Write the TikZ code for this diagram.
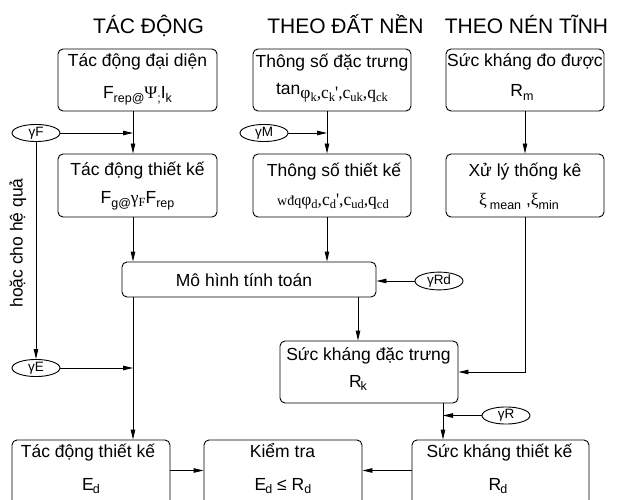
\documentclass[tikz,border=0pt]{standalone}
\usepackage{fontspec}
\setmainfont{Liberation Sans}
\newfontfamily\serif{Liberation Serif}
\usetikzlibrary{shapes.geometric,arrows.meta}
\newcommand\sbs[1]{\raisebox{-0.35ex}{\fontsize{12.5}{12.5}\selectfont #1}}
\begin{document}
\begin{tikzpicture}[x=1pt,y=-1pt,
  bx/.style={draw, rounded corners=5pt, line width=0.9pt, inner sep=0pt},
  ell/.style={ellipse, draw, line width=0.9pt, minimum width=48pt, minimum height=16pt, inner sep=0pt, font=\fontsize{13.5}{13.5}\selectfont},
  txt/.style={anchor=base, inner sep=0pt, font=\fontsize{17.5}{20}\selectfont},
  head/.style={anchor=base, inner sep=0pt, font=\fontsize{21}{24}\selectfont},
  arr/.style={-{Triangle[length=10pt,width=4.5pt]}, line width=0.9pt},
  ln/.style={line width=0.9pt}]
\clip (0,0) rectangle (619,500);
% headings
\node[head] (h1) at (148.5,34) {TÁC ĐỘNG};
\node[head] (h2) at (345.5,34) {THEO ĐẤT NỀN};
\node[head] (h3) at (526.5,34) {THEO NÉN TĨNH};
% row 1
\node[bx, minimum width=159pt, minimum height=62pt] (b1) at (137.5,80) {};
\node[bx, minimum width=158pt, minimum height=62pt] (b2) at (332,80) {};
\node[bx, minimum width=158pt, minimum height=62pt] (b3) at (525,80) {};
\node[txt] (t1a) at (137.5,67) {Tác động đại diện};
\node[txt] (t1b) at (137.5,99) {F\sbs{rep@}{\serif Ψ}\sbs{;}I\sbs{k}};
\node[txt] (t2a) at (332,68) {Thông số đặc trưng};
\node[txt] (t2b) at (332,95) {tan\raisebox{-4pt}{\serif φ\sbs{k},c\sbs{k}',c\sbs{uk},q\sbs{ck}}};
\node[txt] (t3a) at (525,67) {Sức kháng đo được};
\node[txt] (t3b) at (522,97) {R\sbs{m}};
% row 2
\node[bx, minimum width=159pt, minimum height=63pt] (b4) at (137.5,185.5) {};
\node[bx, minimum width=158pt, minimum height=63pt] (b5) at (332,185.5) {};
\node[bx, minimum width=158pt, minimum height=63pt] (b6) at (525,185.5) {};
\node[txt] (t4a) at (137.5,176) {Tác động thiết kế};
\node[txt] (t4b) at (137.5,204) {F\sbs{g@}{\serif γ\sbs{F}}F\sbs{rep}};
\node[txt] (t5a) at (334,177) {Thông số thiết kế};
\node[txt] (t5b) at (333,206) {\serif{\fontsize{14}{14}\selectfont wđq}φ\sbs{d},c\sbs{d}',c\sbs{ud},q\sbs{cd}};
\node[txt] (t6a) at (525,177) {Xử lý thống kê};
\node[txt] (t6b) at (519,206) {{\serif ξ}\,\sbs{mean} ,{\serif ξ}\sbs{min}};
% model
\node[bx, minimum width=254pt, minimum height=35pt] (m) at (249,279.5) {};
\node[txt] (tm) at (244,286) {Mô hình tính toán};
% characteristic resistance
\node[bx, minimum width=178pt, minimum height=62pt] (sk) at (369,372) {};
\node[txt] (tska) at (368.5,360) {Sức kháng đặc trưng};
\node[txt] (tskb) at (358,387) {R\kern-1pt\sbs{k}};
% bottom row
\node[bx, minimum width=158pt, minimum height=66pt] (e1) at (91,473) {};
\node[bx, minimum width=158pt, minimum height=66pt] (k) at (283,473) {};
\node[bx, minimum width=177pt, minimum height=66pt] (r1) at (500.5,473) {};
\node[txt] (te1a) at (88,457) {Tác động thiết kế};
\node[txt] (te1b) at (91,490) {E\kern-1pt\sbs{d}};
\node[txt] (tka) at (282.5,457) {Kiểm tra};
\node[txt] (tkb) at (283,490) {E\kern-1pt\sbs{d} ≤ R\sbs{d}};
\node[txt] (tr1a) at (499.5,457) {Sức kháng thiết kế};
\node[txt] (tr1b) at (498,490) {R\kern-1pt\sbs{d}};
% partial factors
\node[ell] (gF) at (36,133) {γF};
\node[ell] (gM) at (264,133) {γM};
\node[ell] (gE) at (36,368) {γE};
\node[ell, minimum height=17pt] (gRd) at (439,281) {γRd};
\node[ell] (gR) at (506,415.5) {γR};
% side text
\node[rotate=90, inner sep=0pt, font=\fontsize{17.5}{20}\selectfont] (side) at (18,243) {hoặc cho hệ quả};
% helper coordinates
\coordinate (xa) at (133,0);
\coordinate (xb) at (327,0);
\coordinate (xc) at (525,0);
\coordinate (xd) at (358,0);
\coordinate (xe) at (443,0);
\coordinate (yk) at (0,372);
\coordinate (yb) at (0,470.5);
% connectors
\draw[arr] (b1.south -| xa) -- (b4.north -| xa);
\draw[arr] (b4.south -| xa) -- (m.north -| xa);
\draw[arr] (m.south -| xa) -- (e1.north -| xa);
\draw[arr] (gF) -- (gF -| xa);
\draw[arr] (gF.south) -- (gE.north);
\draw[arr] (gE) -- (gE -| xa);
\draw[arr] (b2.south -| xb) -- (b5.north -| xb);
\draw[arr] (b5.south -| xb) -- (m.north -| xb);
\draw[arr] (gM) -- (gM -| xb);
\draw[arr] (b3.south -| xc) -- (b6.north -| xc);
\draw[arr] (b6.south -| xc) -- (xc |- yk) -- (sk.east |- yk);
\draw[arr] (gRd) -- (m.east |- gRd);
\draw[arr] (m.south -| xd) -- (sk.north -| xd);
\draw[arr] (sk.south -| xe) -- (r1.north -| xe);
\draw[arr] (gR) -- (gR -| xe);
\draw[arr] (e1.east |- yb) -- (k.west |- yb);
\draw[arr] (r1.west |- yb) -- (k.east |- yb);
\end{tikzpicture}
\end{document}
